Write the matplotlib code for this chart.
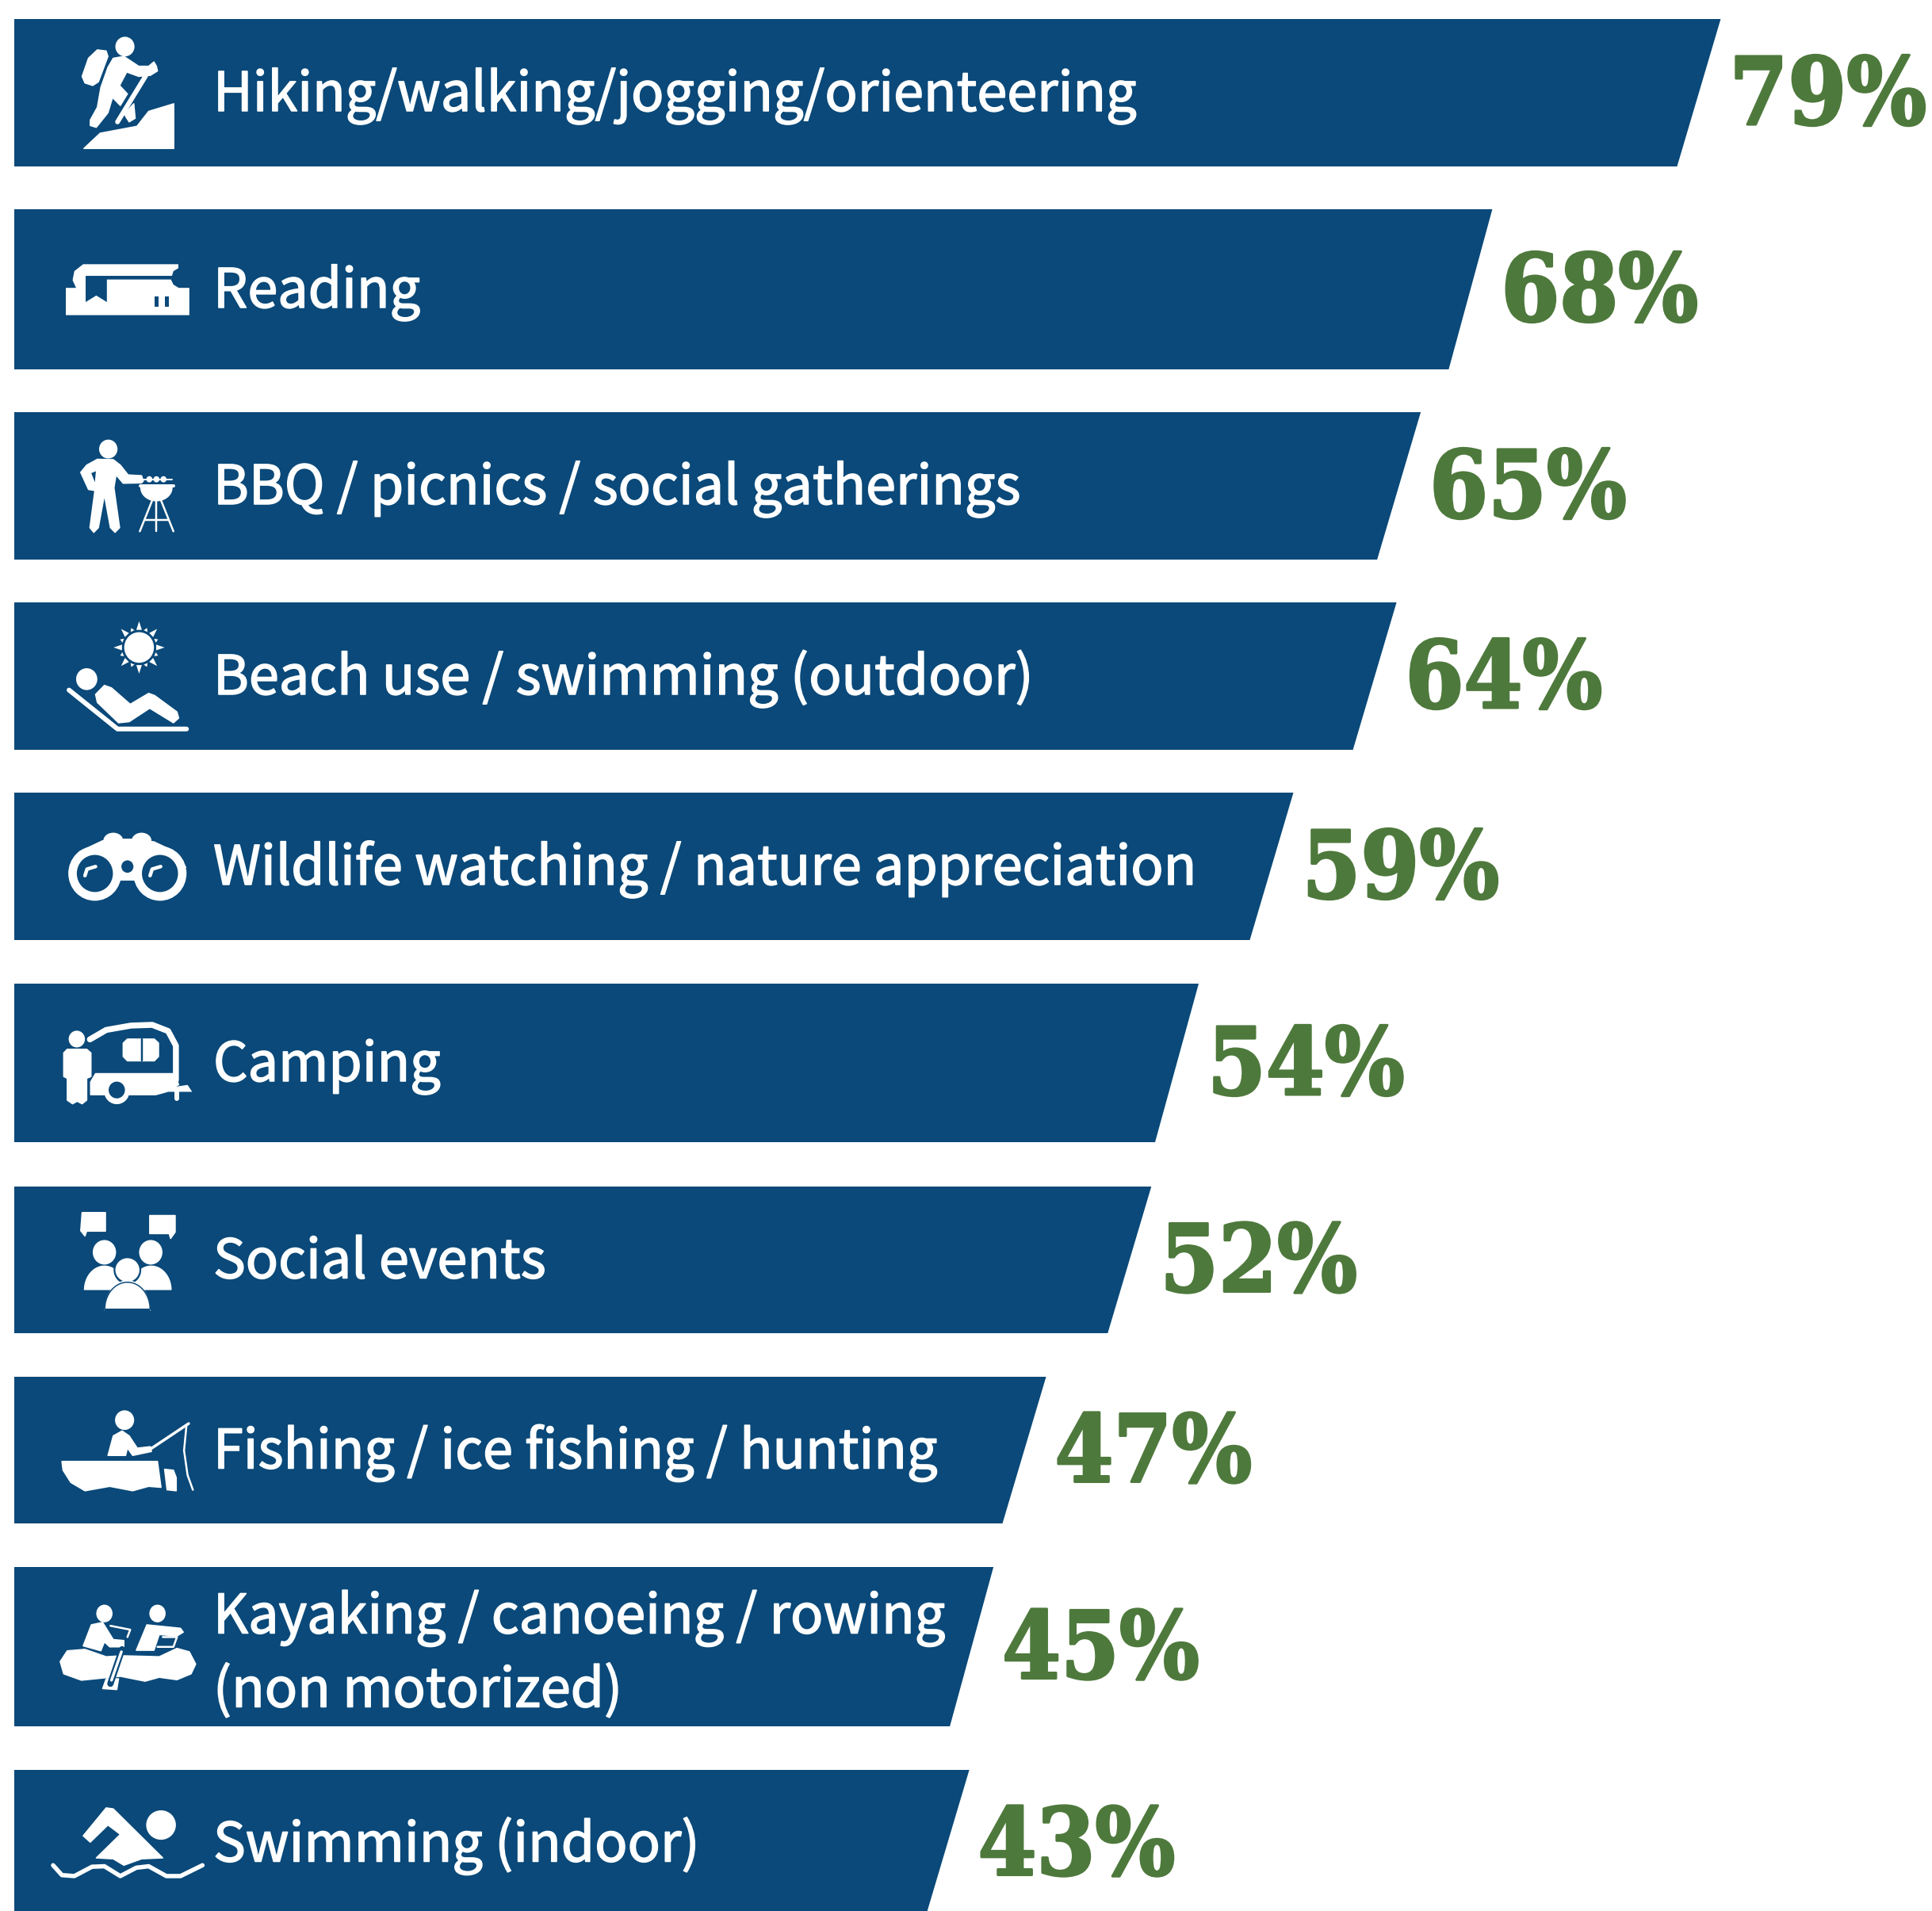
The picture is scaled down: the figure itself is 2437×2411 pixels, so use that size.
import numpy as np
import matplotlib
matplotlib.use('Agg')
import matplotlib.pyplot as plt
import matplotlib.patheffects as pe
from matplotlib.patches import Ellipse, Polygon

activities = ['Hiking/walking/jogging/orienteering', 'Reading',
              'BBQ / picnics / social gatherings',
              'Beach use / swimming (outdoor)',
              'Wildlife watching / nature appreciation', 'Camping',
              'Social events', 'Fishing / ice fishing / hunting',
              'Kayaking / canoeing / rowing\n(non motorized)',
              'Swimming (indoor)']
percent = [79, 68, 65, 64, 59, 54, 52, 47, 45, 43]
# the drawn bars do not land exactly on the rounded labels
bar_length = [79.0, 68.15, 64.75, 63.6, 58.7, 54.2, 51.95, 46.95, 44.45, 43.3]

# layout, in pixels of the 2437x2411 picture
bar_top = [24, 264, 520, 760, 1000, 1241, 1497, 1737, 1977, 2233]
bar_bottom = [210, 466, 706, 946, 1186, 1441, 1682, 1922, 2178, 2418]
W, H = 2437, 2411
X0 = 18
PX_PER_PCT = 26.55
SLANT = 55 / PX_PER_PCT

BLUE = '#0A4979'
GREEN = '#4E793C'
WHITE = '#FFFFFF'

LABEL_FONT = ['Noto Sans CJK SC', 'DejaVu Sans']

Z1 = (0, 2.24, 2.178)
Z2 = (720, 2.24, 2.178)
Z3 = (1440, 2.24, 1.615)

fig = plt.figure(figsize=(W / 100, H / 100), dpi=100, facecolor='white')
ax = fig.add_axes([0, 0, 1, 1])
ax.set_xlim(-X0 / PX_PER_PCT, (W - X0) / PX_PER_PCT)
ax.set_ylim(H, 0)
ax.axis('off')

# second axes in plain pixels, for icons and category text
px = fig.add_axes([0, 0, 1, 1])
px.set_xlim(0, W)
px.set_ylim(H, 0)
px.axis('off')
px.patch.set_alpha(0)


def to_px(pts, frame):
    arr = np.array(pts, dtype=float)
    return np.column_stack([arr[:, 0] / frame[1], frame[0] + arr[:, 1] / frame[2]])


def shape(pts, frame, color=WHITE, round_px=1.5):
    px.add_patch(Polygon(to_px(pts, frame), closed=True, facecolor=color,
                         edgecolor=color, linewidth=round_px * 0.72,
                         joinstyle='round'))


def stroke(pts, frame, width, color=WHITE):
    xy = to_px(pts, frame)
    px.plot(xy[:, 0], xy[:, 1], color=color, linewidth=width * 0.72,
            solid_capstyle='round', solid_joinstyle='round')


def blob(cx, cy, w, h, frame, color=WHITE):
    c = to_px([(cx, cy)], frame)[0]
    px.add_patch(Ellipse(c, w / frame[1], h / frame[2], facecolor=color,
                         edgecolor='none'))


def dome(cx, base, w, h, frame):
    t = np.linspace(np.pi, 2 * np.pi, 40)
    shape(np.column_stack([cx + w / 2 * np.cos(t), base + h * np.sin(t)]), frame, round_px=0)


def icon_hiker():
    blob(353, 128, 54, 54, Z1)
    shape([(232, 210), (250, 160), (275, 137), (300, 140), (305, 155), (278, 225),
           (262, 235), (240, 228)], Z1)
    shape([(320, 160), (350, 155), (392, 182), (420, 182), (435, 170), (442, 182),
           (445, 195), (425, 207), (392, 210), (358, 198), (338, 235), (360, 258),
           (340, 290), (318, 268), (305, 310), (272, 350), (255, 345), (255, 330),
           (275, 295), (285, 240), (305, 185)], Z1)
    stroke([(412, 208), (332, 335)], Z1, 6)
    shape([(378, 285), (382, 325), (365, 335), (355, 320), (352, 312)], Z1)
    shape([(237, 408), (283, 366), (387, 347), (420, 306), (491, 285), (491, 408)], Z1)


def icon_book():
    shape([(186, 791), (215, 791), (205, 770), (210, 745), (235, 726), (504, 726),
           (504, 737), (490, 745), (483, 768), (490, 782), (505, 791), (535, 791),
           (535, 866), (186, 866)], Z1, round_px=0)
    shape([(242, 758), (488, 758), (484, 768), (302, 768), (302, 830), (272, 812),
           (242, 830)], Z1, color=BLUE, round_px=0)
    for x in (437, 465):
        shape([(x, 815), (x + 12, 815), (x + 12, 843), (x, 843)], Z1, color=BLUE, round_px=0)


def icon_bbq():
    blob(306, 1234, 52, 52, Z1)
    shape([(228, 1298), (245, 1278), (275, 1262), (320, 1263), (340, 1278), (362, 1305),
           (400, 1307), (405, 1322), (400, 1327), (348, 1328), (328, 1305), (322, 1340),
           (338, 1450), (325, 1463), (312, 1450), (295, 1360), (278, 1450), (265, 1463),
           (254, 1450), (268, 1348), (250, 1345)], Z1)
    shape([(258, 1300), (271, 1295), (268, 1325)], Z1, color=BLUE, round_px=0)
    stroke([(400, 1317), (485, 1317)], Z1, 2)
    for x in (422, 442, 462):
        blob(x, 1317, 17, 17, Z1)
    stroke([(396, 1335), (490, 1335)], Z1, 4)
    t = np.linspace(0, np.pi, 30)
    shape(np.column_stack([442 + 44 * np.cos(t), 1340 + 36 * np.sin(t)]), Z1)
    stroke([(430, 1375), (395, 1460)], Z1, 2.5)
    stroke([(455, 1375), (490, 1460)], Z1, 2.5)
    stroke([(442, 1375), (442, 1460)], Z1, 2.5)
    stroke([(410, 1428), (475, 1428)], Z1, 2.5)


def icon_beach():
    blob(393, 211, 84, 84, Z2)
    for i in range(16):
        a = i * np.pi / 8
        r_out = 72 if i % 2 == 0 else 58
        d = 0.16 if i % 2 == 0 else 0.12
        shape([(393 + 49 * np.cos(a - d), 211 + 49 * np.sin(a - d)),
               (393 + r_out * np.cos(a), 211 + r_out * np.sin(a)),
               (393 + 49 * np.cos(a + d), 211 + 49 * np.sin(a + d))], Z2, round_px=0)
    blob(245, 298, 60, 60, Z2)
    stroke([(195, 328), (332, 435), (527, 435)], Z2, 6)
    shape([(270, 340), (295, 315), (315, 322), (368, 367), (420, 337), (437, 343),
           (500, 388), (505, 405), (490, 418), (423, 378), (365, 415), (335, 418),
           (275, 362)], Z2)


def icon_binoculars():
    shape([(198, 815), (225, 772), (290, 742), (350, 738), (375, 738), (435, 745),
           (490, 770), (525, 815), (450, 850), (270, 850)], Z2)
    blob(320, 742, 56, 44, Z2)
    blob(400, 742, 56, 44, Z2)
    for x in (268, 452):
        blob(x, 832, 150, 150, Z2)
        blob(x, 832, 102, 102, Z2, color=BLUE)
        dx = x - 268
        stroke([(240 + dx, 838), (246 + dx, 820), (270 + dx, 813)], Z2, 4.5)
    blob(360, 813, 34, 34, Z2, color=BLUE)


def icon_camper():
    blob(217, 1287, 46, 46, Z2)
    shape([(180, 1325), (190, 1315), (245, 1315), (257, 1325), (257, 1390), (245, 1395),
           (245, 1455), (232, 1465), (218, 1458), (205, 1465), (190, 1455), (190, 1395),
           (180, 1390)], Z2)
    stroke([(254, 1288), (300, 1262), (370, 1250), (430, 1248), (475, 1265), (497, 1305),
            (497, 1400)], Z2, 7.5)
    shape([(270, 1382), (490, 1382), (505, 1412), (470, 1432), (440, 1440), (256, 1440),
           (256, 1405)], Z2)
    blob(330, 1430, 72, 72, Z2)
    blob(330, 1427, 46, 46, Z2, color=BLUE)
    shape([(360, 1287), (436, 1287), (448, 1298), (448, 1335), (436, 1347), (360, 1347),
           (348, 1335), (348, 1298)], Z2)
    stroke([(400, 1287), (400, 1347)], Z2, 2.5, color=BLUE)
    shape([(470, 1432), (495, 1418), (530, 1413), (543, 1432)], Z2, round_px=0)
    stroke([(500, 1432), (500, 1450)], Z2, 6)


def icon_social():
    shape([(232, 145), (298, 145), (298, 183), (245, 183), (240, 193), (228, 182)], Z3)
    shape([(423, 151), (495, 151), (495, 185), (482, 198), (478, 188), (423, 188)], Z3)
    blob(295, 226, 66, 50, Z3)
    blob(426, 226, 66, 50, Z3)
    dome(295, 303, 116, 50, Z3)
    dome(427, 303, 116, 50, Z3)
    blob(360, 262, 78, 58, Z3, color=BLUE)
    blob(360, 262, 68, 48, Z3)
    dome(360, 345, 130, 62, Z3)
    t = np.linspace(np.pi, 2 * np.pi, 40)
    stroke(np.column_stack([360 + 64 * np.cos(t), 342 + 55 * np.sin(t)]), Z3, 1.5, color=BLUE)
    shape([(296, 340), (424, 340), (424, 350), (296, 350)], Z3, color=BLUE, round_px=0)


def icon_fishing():
    blob(352, 568, 54, 40, Z3)
    shape([(305, 640), (320, 600), (345, 590), (365, 600), (388, 625), (425, 622),
           (428, 632), (375, 640), (360, 625), (355, 640)], Z3)
    stroke([(425, 627), (533, 575)], Z3, 3.5)
    stroke([(527, 578), (520, 630), (530, 680), (545, 710)], Z3, 2.5)
    shape([(175, 652), (445, 652), (455, 705), (420, 703), (375, 712), (310, 703),
           (240, 712), (200, 695), (178, 670)], Z3)
    shape([(465, 668), (490, 670), (498, 685), (498, 712), (472, 710)], Z3)


def icon_kayak():
    blob(295, 962, 46, 36, Z3)
    blob(445, 962, 46, 36, Z3)
    shape([(170, 1060), (190, 1038), (240, 1035), (300, 1050), (345, 1048), (450, 1050),
           (500, 1033), (535, 1040), (553, 1065), (540, 1085), (500, 1097), (450, 1092),
           (410, 1100), (340, 1090), (230, 1098), (180, 1085)], Z3)
    stroke([(345, 1035), (312, 1105)], Z3, 8, color=BLUE)
    stroke([(343, 1040), (315, 1098)], Z3, 3.5)
    shape([(290, 1115), (300, 1095), (335, 1095), (330, 1117)], Z3)
    shape([(235, 1028), (258, 985), (290, 980), (320, 1015), (350, 1017), (350, 1030),
           (310, 1030), (295, 1020), (285, 1038)], Z3)
    shape([(385, 1037), (415, 985), (510, 992), (518, 1000), (500, 1008), (450, 1005),
           (435, 1037)], Z3)
    stroke([(312, 987), (368, 995), (360, 1010)], Z3, 2.5)
    stroke([(460, 1010), (500, 1010), (490, 1030), (445, 1030)], Z3, 2.5)


def icon_swimmer():
    blob(455, 1393, 84, 60, Z3)
    shape([(272, 1460), (340, 1412), (305, 1393), (255, 1428), (235, 1415), (300, 1358),
           (320, 1360), (460, 1460), (400, 1462), (350, 1475), (320, 1462)], Z3)
    stroke([(150, 1475), (175, 1495), (210, 1497), (260, 1478), (295, 1477), (340, 1497),
            (385, 1480), (420, 1477), (470, 1497), (510, 1497), (572, 1475)], Z3, 5.5)


icons = [icon_hiker, icon_book, icon_bbq, icon_beach, icon_binoculars,
         icon_camper, icon_social, icon_fishing, icon_kayak, icon_swimmer]

for i, value in enumerate(percent):
    top, bottom = bar_top[i], bar_bottom[i]
    length = bar_length[i]
    ax.fill([0, length + SLANT, length, 0], [top, top, bottom, bottom],
            color=BLUE, linewidth=0)
    middle = (top + bottom) / 2
    ax.annotate(f'{value}%', xy=(length + SLANT, middle), xytext=(11, -40),
                textcoords='offset pixels', ha='left', va='baseline',
                family=['DejaVu Serif'], stretch='condensed', weight='bold',
                fontsize=85, color=GREEN,
                path_effects=[pe.withStroke(linewidth=2.2, foreground=GREEN)])
    lines = activities[i].split('\n')
    start = middle + 23 - (len(lines) - 1) * 40
    for j, line in enumerate(lines):
        px.text(269, start + j * 93, line, ha='left', va='baseline',
                family=LABEL_FONT, fontsize=49.2, color=WHITE,
                path_effects=[pe.withStroke(linewidth=1.1, foreground=WHITE)])
    icons[i]()

px.set_xlim(0, W)
px.set_ylim(H, 0)
fig.savefig('out.png', dpi=100)
